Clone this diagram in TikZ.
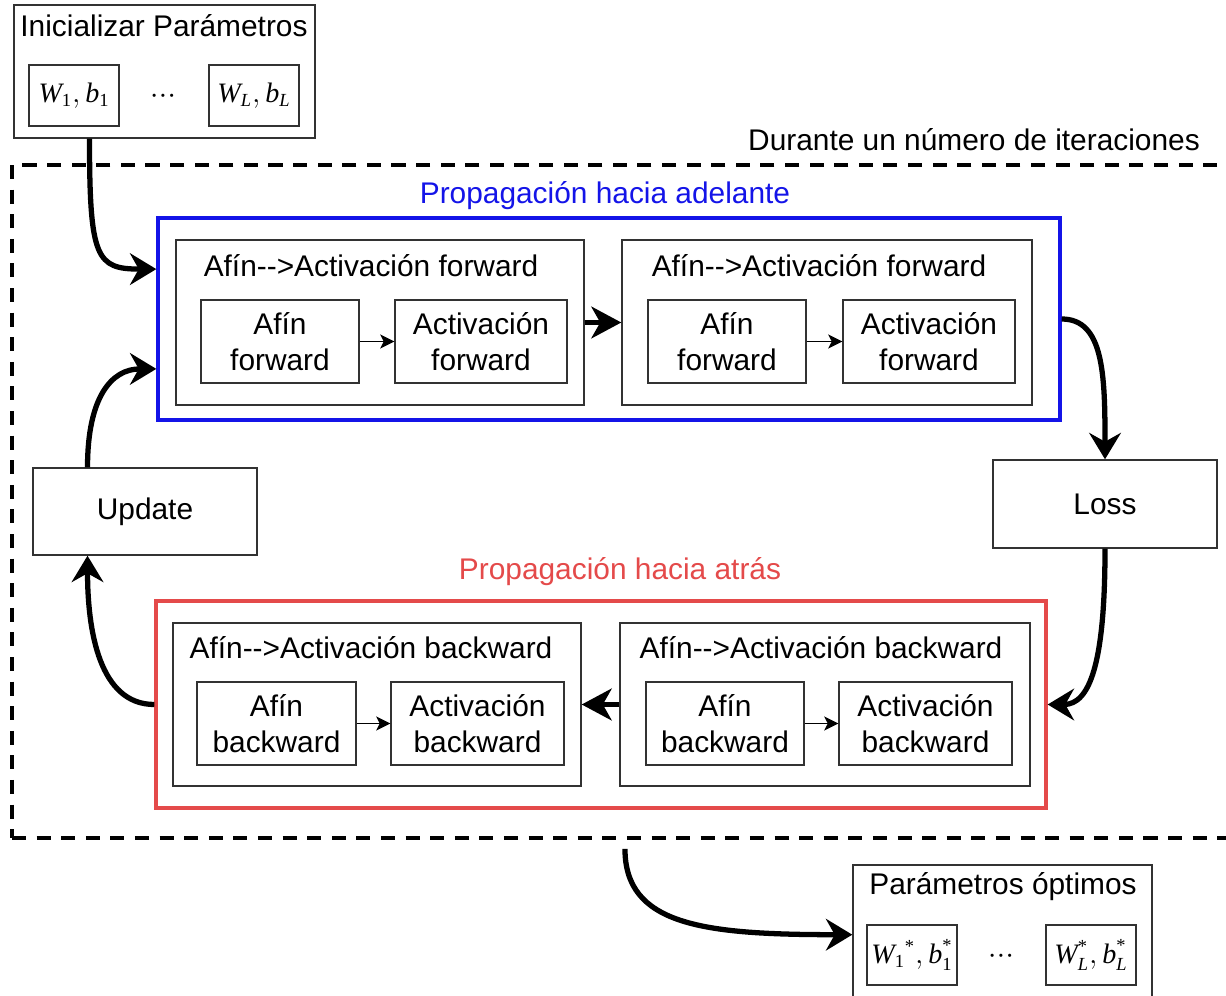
\documentclass[tikz,border=0pt]{standalone}
\usepackage{fontspec}
\setmainfont{Liberation Sans}
\newfontfamily\tms{Liberation Serif}
\usetikzlibrary{arrows.meta,fit,calc}
\definecolor{fwblue}{RGB}{20,20,232}
\definecolor{bwred}{RGB}{228,74,74}
\definecolor{boxgray}{RGB}{50,50,50}
\newcommand\afarrow{-\kern0pt-\kern0pt>}
\newcommand\tv[1]{\hbox{\tms\itshape #1}}
\newcommand\ts[1]{\hbox{\tms\fontsize{10.5}{11}\selectfont #1}}
\newcommand\tsi[1]{\hbox{\tms\itshape\fontsize{10.5}{11}\selectfont #1}}
\tikzset{
  bx/.style n args={4}{at={({(#1+#3)/2},{(#2+#4)/2})}, minimum width={(#3-#1)*0.02cm}, minimum height={(#4-#2)*0.02cm}, inner sep=0pt, align=center, anchor=center},
  box/.style={draw=boxgray, line width=0.8pt},
  mbox/.style={box, font=\tms\fontsize{16}{18}\selectfont},
  frame/.style={draw=black, line width=2.3pt, dash pattern=on 8pt off 6pt, inner sep=0pt, fit={#1}},
  bigarrow/.style={line width=3pt, -{Stealth[length=15pt,width=18pt,inset=5pt]}},
  gaparrow/.style={line width=3.2pt, -{Stealth[length=17pt,width=18pt,inset=5pt]}},
  smallarrow/.style={line width=1.1pt, -{Stealth[length=8pt,width=8pt,inset=2pt]}},
  dotsnode/.style={font=\tms\fontsize{15}{17}\selectfont, inner sep=0pt},
}
\begin{document}
\begin{tikzpicture}[x=0.02cm,y=-0.02cm, font=\fontsize{17}{20.5}\selectfont]
\useasboundingbox (0,0) rectangle (1226,996);
\clip (0,0) rectangle (1226,996);

% loop frame
\node[frame={(12,165) (1262,838)}] (loop) {};
\node (iterlbl) at (974,140) {Durante un número de iteraciones};

% initial parameters
\node[box, bx={14}{5}{315}{138}] (init) {};
\node (initt) at (164,26) {Inicializar Parámetros};
\node[mbox, bx={29}{65}{119}{126}] (w1) {$\tv{W}_{\ts{1}}, \tv{b}_{\ts{1}}$};
\node[dotsnode] (dots1) at (163,99) {···};
\node[mbox, bx={209}{65}{299}{126}] (wL) {$\tv{W}_{\tsi{L}}, \tv{b}_{\tsi{L}}$};

% forward propagation
\node[draw=fwblue, line width=1.9pt, bx={158}{218}{1060}{420}] (fwd) {};
\node[text=fwblue] (fwdt) at (605,196) {Propagación hacia adelante};
\node[box, bx={176}{240}{584}{405}] (f1) {};
\node (f1t) at (371,266) {Afín\afarrow Activación forward};
\node[box, bx={201}{300}{359}{383}] (f1a) {Afín\\forward};
\node[box, bx={395}{300}{567}{383}] (f1b) {Activación\\forward};
\node[box, bx={622}{240}{1032}{405}] (f2) {};
\node (f2t) at (819,266) {Afín\afarrow Activación forward};
\node[box, bx={648}{300}{806}{383}] (f2a) {Afín\\forward};
\node[box, bx={843}{300}{1015}{383}] (f2b) {Activación\\forward};
\draw[smallarrow] (f1a) -- (f1b);
\draw[smallarrow] (f2a) -- (f2b);
\draw[gaparrow] (f1) -- (f2);

% loss and update
\node[box, bx={993}{460}{1217}{548}] (loss) {Loss};
\node[box, bx={33}{468}{257}{555}] (update) {Update};

% backward propagation
\node[draw=bwred, line width=1.9pt, bx={156}{601}{1046}{808}] (bwd) {};
\node[text=bwred] (bwdt) at (620,572) {Propagación hacia atrás};
\node[box, bx={173}{623}{581}{786}] (b1) {};
\node (b1t) at (371,648) {Afín\afarrow Activación backward};
\node[box, bx={197}{682}{356}{765}] (b1a) {Afín\\backward};
\node[box, bx={391}{682}{564}{765}] (b1b) {Activación\\backward};
\node[box, bx={620}{623}{1030}{786}] (b2) {};
\node (b2t) at (821,648) {Afín\afarrow Activación backward};
\node[box, bx={646}{682}{804}{765}] (b2a) {Afín\\backward};
\node[box, bx={839}{682}{1012}{765}] (b2b) {Activación\\backward};
\draw[smallarrow] (b1a) -- (b1b);
\draw[smallarrow] (b2a) -- (b2b);
\draw[gaparrow] (b2) -- (b1);

% optimal parameters
\node[box, bx={853}{865}{1152}{1020}] (params) {};
\node (paramst) at (1003,887) {Parámetros óptimos};
\node[mbox, bx={867}{925}{957}{985}] (w1s) {${\tv{W}_{\ts{1}}}^{\ts{*}}, \tv{b}_{\ts{1}}^{\ts{*}}$};
\node[dotsnode] (dots2) at (1001,959) {···};
\node[mbox, bx={1046}{925}{1136}{985}] (wLs) {$\tv{W}_{\tsi{L}}^{\ts{*}}, \tv{b}_{\tsi{L}}^{\ts{*}}$};

% curved connectors
\draw[bigarrow] ($(init.south west)!0.252!(init.south east)$) .. controls +(0,120) and +(-60,0) .. ($(fwd.north west)!0.257!(fwd.south west)$);
\draw[bigarrow] ($(update.north west)!0.245!(update.north east)$) .. controls +(0,-70) and +(-45,0) .. ($(fwd.north west)!0.743!(fwd.south west)$);
\draw[bigarrow] (bwd.west) .. controls +(-55,0) and +(0,75) .. ($(update.south west)!0.245!(update.south east)$);
\draw[bigarrow] (fwd.east) .. controls +(42,0) and +(0,-85) .. (loss.north);
\draw[bigarrow] (loss.south) .. controls +(0,115) and +(42,0) .. (bwd.east);
\draw[bigarrow, shorten <=5pt] ($(loop.south west)!0.4904!(loop.south east)$) .. controls +(0,85) and +(-150,0) .. ($(params.north west)!0.45!(params.south west)$);
\end{tikzpicture}
\end{document}
